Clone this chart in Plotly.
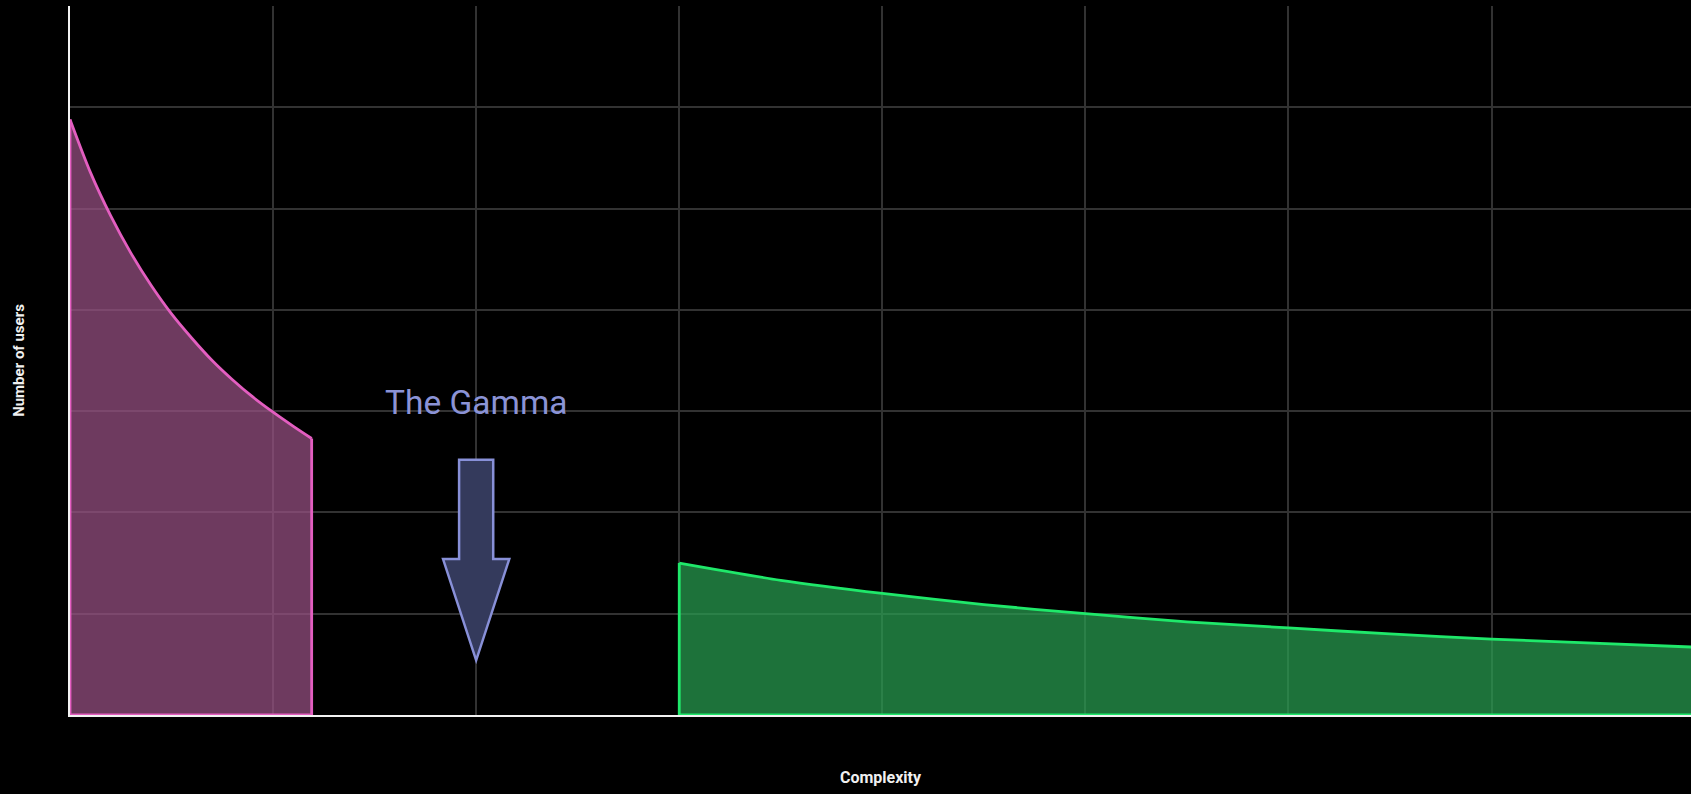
import plotly.graph_objects as go

# ---- data ----
simple_x = [0, 0.1, 0.2, 0.3, 0.4, 0.5, 0.6, 0.7, 0.8, 0.9, 1.0, 1.1, 1.19]
simple_y = [5.88, 5.36, 4.93, 4.56, 4.24, 3.96, 3.72, 3.50, 3.31, 3.14, 2.99, 2.85, 2.73]

complex_x = [3.0, 3.5, 4.0, 4.5, 5.0, 5.5, 6.0, 6.5, 7.0, 7.5, 8.0]
complex_y = [1.50, 1.33, 1.20, 1.09, 1.00, 0.92, 0.86, 0.80, 0.75, 0.71, 0.67]

gamma_label = "The Gamma"
gamma_x = 2.0
gamma_label_y = 3.09
arrow_top = 2.52
arrow_head_base = 1.54
arrow_tip = 0.54

x_title = "Complexity"
y_title = "Number of users"

X_RANGE = [0, 7.982]
Y_RANGE = [0, 7]


def add_area(fig, xs, ys, line_color, fill_color):
    # filled smooth curve
    fig.add_trace(go.Scatter(
        x=xs, y=ys, mode="lines", fill="tozeroy", fillcolor=fill_color,
        line=dict(color=line_color, width=2.8, shape="spline", smoothing=0.8),
        hoverinfo="skip", showlegend=False,
    ))
    # closing edges of the area (left side, base, right side unless past plot edge)
    ex = [xs[0], xs[0], xs[-1]]
    ey = [ys[0], 0, 0]
    if xs[-1] < X_RANGE[1]:
        ex.append(xs[-1])
        ey.append(ys[-1])
    fig.add_trace(go.Scatter(
        x=ex, y=ey, mode="lines", line=dict(color=line_color, width=2.8),
        hoverinfo="skip", showlegend=False,
    ))


fig = go.Figure()
add_area(fig, simple_x, simple_y, "#e35ec0", "rgba(153,81,131,0.72)")
add_area(fig, complex_x, complex_y, "#1fe86a", "rgba(40,158,80,0.72)")

# arrow annotation glyph (shaft and head half-widths in data units)
shaft_hw = 0.084
head_hw = 0.163
path = (
    f"M {gamma_x - shaft_hw} {arrow_top} L {gamma_x + shaft_hw} {arrow_top} "
    f"L {gamma_x + shaft_hw} {arrow_head_base} L {gamma_x + head_hw} {arrow_head_base} "
    f"L {gamma_x} {arrow_tip} L {gamma_x - head_hw} {arrow_head_base} "
    f"L {gamma_x - shaft_hw} {arrow_head_base} Z"
)
fig.add_shape(type="path", path=path, xref="x", yref="y",
              fillcolor="#343a5c", line=dict(color="#8890d8", width=2.5))

fig.add_annotation(x=gamma_x, y=gamma_label_y, xref="x", yref="y",
                   text=gamma_label, showarrow=False,
                   font=dict(family="Roboto", size=33.5, color="#8b93d6"),
                   xanchor="center", yanchor="middle")

axis_common = dict(
    showgrid=True, gridcolor="#323232", gridwidth=2,
    showline=True, linecolor="#f2f2f2", linewidth=2,
    zeroline=False, showticklabels=False, ticks="", dtick=1,
)

fig.update_layout(
    width=1691, height=794,
    paper_bgcolor="#000000", plot_bgcolor="#000000",
    margin=dict(l=70, r=0, t=6, b=79),
    xaxis=dict(range=X_RANGE, **axis_common,
               title=dict(text=x_title, standoff=56,
                          font=dict(family="Roboto", size=16, color="#f0f0f0", weight="bold"))),
    yaxis=dict(range=Y_RANGE, **axis_common,
               title=dict(text=y_title, standoff=40,
                          font=dict(family="Roboto", size=15, color="#f0f0f0", weight="bold"))),
    font=dict(family="Roboto"),
)

fig.write_html(
    "out.html",
    config={"displayModeBar": False},
    post_script="document.body.style.margin='0';document.body.style.background='#000';",
)
